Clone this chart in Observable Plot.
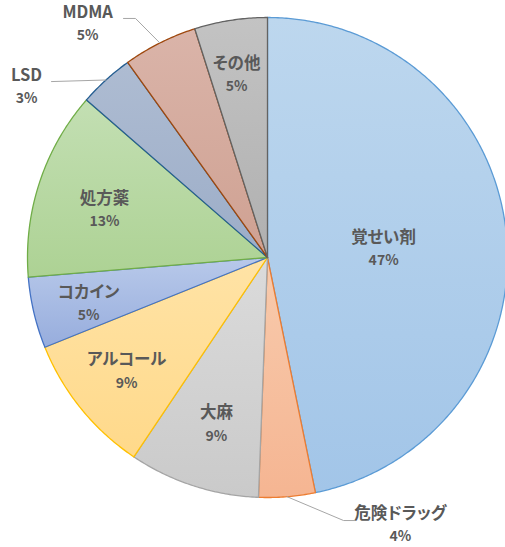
<!DOCTYPE html>
<html><head><meta charset="utf-8">
<script src="https://cdn.jsdelivr.net/npm/d3@7"></script>
<script src="https://cdn.jsdelivr.net/npm/@observablehq/plot@0.6"></script>
<style>body{margin:0;background:#fff} svg text{font-feature-settings:"palt" 1;}</style>
</head><body><div id="chart"></div>
<script>
// data
const labels = ["覚せい剤","危険ドラッグ","大麻","アルコール","コカイン","処方薬","LSD","MDMA","その他"];
const values = [46.8, 3.8, 8.8, 9.5, 4.8, 12.7, 3.7, 5.0, 4.9];
const pctLabels = ["47%","4%","9%","9%","5%","13%","3%","5%","5%"];
// styles
const fillTop    = ["#BDD7EE","#F8CBAD","#DBDBDB","#FFE3A6","#B8C9EA","#C3DFB3","#AEBCD2","#DAB4A9","#C3C3C3"];
const fillBottom = ["#A2C5E8","#F5B592","#CACACA","#FFD98A","#97ADDD","#ADD294","#9CADC8","#CFA192","#B0B0B0"];
const strokes    = ["#5B9BD5","#ED7D31","#A5A5A5","#FFC000","#4472C4","#70AD47","#255E91","#9E480E","#636363"];
// label layout (angle in degrees clockwise from top, radius in pie radii)
const labelAngle  = [86, 153.6, 197, 231, 255.4, 286.1, 305.3, 322.4, 350.4];
const labelRadius = [0.485, 1.245, 0.728, 0.755, 0.77, 0.707, 1.23, 1.228, 0.771];
// leader lines for outside labels: index -> extra points (pie units)
const leaders = {1: [[0.317,-1.096],[0.367,-1.096]], 6: [[-0.9,0.733]], 7: [[-0.55,0.996],[-0.6,0.996]]};

const total = d3.sum(values);
const rad = Math.PI/180;
const polar = (a, r) => [r*Math.sin(a), r*Math.cos(a)];

let cum = 0;
const slices = values.map((v,i) => {
  const a0 = cum/total*2*Math.PI; cum += v;
  const a1 = cum/total*2*Math.PI;
  return {i, a0, a1, mid:(a0+a1)/2};
});

const marks = [];
slices.forEach(s => {
  const n = Math.max(4, Math.ceil((s.a1-s.a0)/(0.5*rad)));
  const pts = [{x:0,y:0}];
  for (let k=0;k<=n;k++){ const [x,y]=polar(s.a0+(s.a1-s.a0)*k/n,1); pts.push({x,y}); }
  marks.push(Plot.line(pts, {x:"x", y:"y", curve:"linear-closed", fill:`url(#g${s.i})`, stroke:strokes[s.i], strokeWidth:1.3, strokeLinejoin:"round"}));
});

Object.entries(leaders).forEach(([i, extra]) => {
  const s = slices[+i];
  const [x0,y0] = polar(s.mid, 1);
  const pts = [{x:x0,y:y0}, ...extra.map(([x,y])=>({x,y}))];
  marks.push(Plot.line(pts, {x:"x", y:"y", stroke:"#A6A6A6", strokeWidth:1}));
});

const textData = labels.map((l,i) => {
  const [x,y] = polar(labelAngle[i]*rad, labelRadius[i]);
  return {x, y, name: l, pct: pctLabels[i]};
});
const font = "'Noto Sans CJK JP', 'Noto Sans', sans-serif";
marks.push(Plot.text(textData, {x:"x", y:"y", text:"name", dy:-11.5, fill:"#595959", fontSize:16.5, fontWeight:"bold", fontFamily:font}));
marks.push(Plot.text(textData, {x:"x", y:"y", text:"pct", dy:11.5, fill:"#595959", fontSize:14, fontWeight:"bold", fontFamily:font}));

const R = 240, cx = 267, cy = 257, W = 505, H = 547;
const chart = Plot.plot({
  width: W, height: H, margin: 0,
  x: {domain:[-cx/R, (W-cx)/R], range:[0,W], axis:null},
  y: {domain:[-(H-cy)/R, cy/R], range:[H,0], axis:null},
  marks
});

const ns = "http://www.w3.org/2000/svg";
const defs = document.createElementNS(ns, "defs");
fillTop.forEach((c,i) => {
  const g = document.createElementNS(ns, "linearGradient");
  g.setAttribute("id", "g"+i); g.setAttribute("x1","0"); g.setAttribute("y1","0"); g.setAttribute("x2","0"); g.setAttribute("y2","1");
  [[0,c],[1,fillBottom[i]]].forEach(([o,col]) => {
    const st = document.createElementNS(ns,"stop"); st.setAttribute("offset", o); st.setAttribute("stop-color", col); g.appendChild(st);
  });
  defs.appendChild(g);
});
chart.insertBefore(defs, chart.firstChild);
document.getElementById("chart").appendChild(chart);
</script>
</body></html>
